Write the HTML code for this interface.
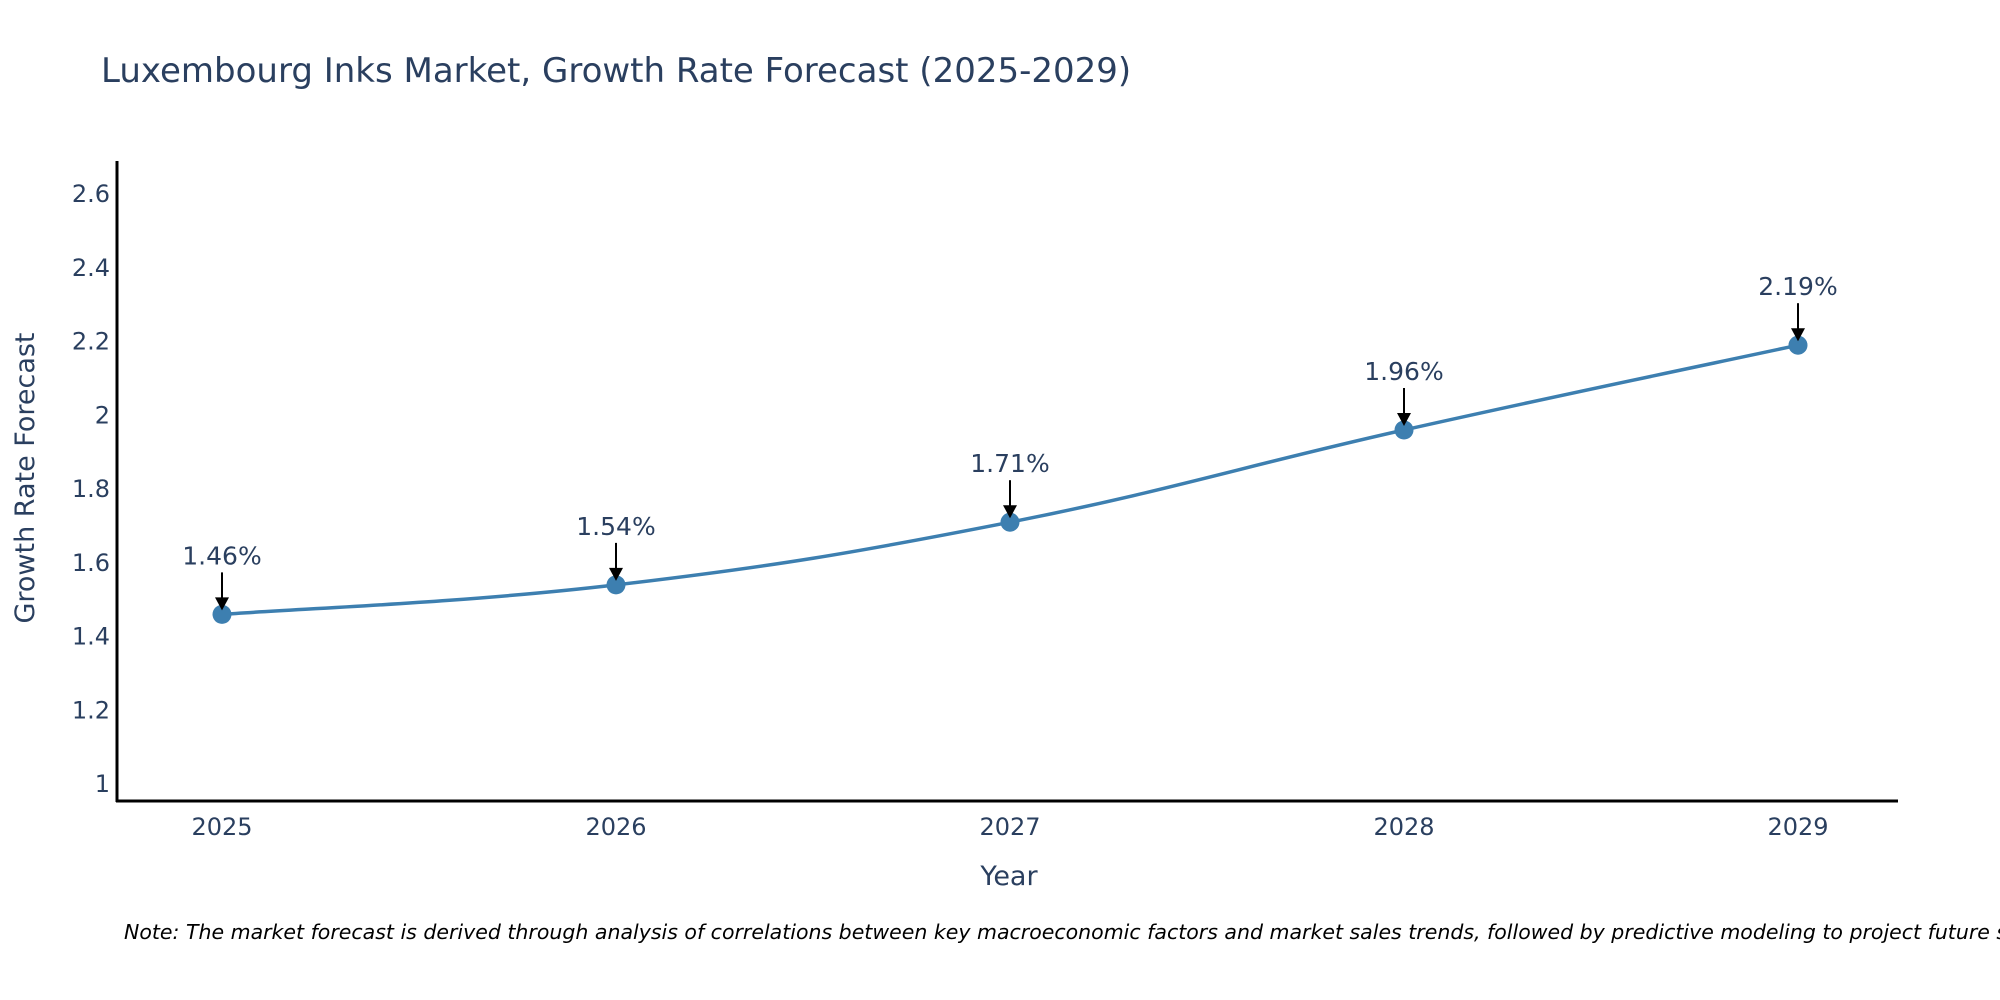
<!DOCTYPE html>
<html><head><meta charset="utf-8"><style>
html,body{margin:0;padding:0;background:#fff;width:2000px;height:1000px;overflow:hidden}
svg{display:block}
text{font-family:"DejaVu Sans","Liberation Sans",sans-serif;fill:#2a3f5f}
</style></head><body>
<svg id="chart" width="2000" height="1000">
<text x="101" y="82" font-size="34">Luxembourg Inks Market, Growth Rate Forecast (2025-2029)</text>
<g id="yticks"></g>
<g id="xticks"></g>
<line x1="117" y1="161" x2="117" y2="802" stroke="#000" stroke-width="3"/>
<line x1="116" y1="801" x2="1898" y2="801" stroke="#000" stroke-width="3"/>
<path id="line" fill="none" stroke="#3d7fb0" stroke-width="3.5"/>
<g id="points"></g>
<g id="annots"></g>
<text transform="translate(34,478) rotate(-90)" text-anchor="middle" font-size="27">Growth Rate Forecast</text>
<text x="1009" y="885" text-anchor="middle" font-size="27">Year</text>
<text x="124" y="939" font-size="20.5" font-style="italic" style="fill:#000">Note: The market forecast is derived through analysis of correlations between key macroeconomic factors and market sales trends, followed by predictive modeling to project future sales.</text>
</svg>
<script>
const years = ["2025","2026","2027","2028","2029"];
const values = [1.46, 1.54, 1.71, 1.96, 2.19];
const labels = ["1.46%","1.54%","1.71%","1.96%","2.19%"];
const yTicks = [1, 1.2, 1.4, 1.6, 1.8, 2, 2.2, 2.4, 2.6];
const yTickLabels = ["1","1.2","1.4","1.6","1.8","2","2.2","2.4","2.6"];
const NS="http://www.w3.org/2000/svg";
function xs(i){return 222+i*(1798-222)/4;}
function ys(v){return 784-(v-1)*(784-194)/1.6;}
function mk(tag,attrs,parent){const e=document.createElementNS(NS,tag);for(const k in attrs)e.setAttribute(k,attrs[k]);parent.appendChild(e);return e;}
const yt=document.getElementById('yticks');
yTicks.forEach((v,i)=>{const t=mk('text',{x:110,y:ys(v)+8,'text-anchor':'end','font-size':24},yt);


t.textContent=yTickLabels[i];});
const xt=document.getElementById('xticks');
years.forEach((y,i)=>{const t=mk('text',{x:xs(i),y:835,'text-anchor':'middle','font-size':24},xt);


t.textContent=y;});
const P=values.map((v,i)=>[xs(i),ys(v)]);
let d=`M${P[0][0]},${P[0][1]}`;const s=0.2;
for(let i=0;i<P.length-1;i++){const p0=P[i-1]||P[i],p1=P[i],p2=P[i+1],p3=P[i+2]||P[i+1];
d+=` C${p1[0]+(p2[0]-p0[0])*s},${p1[1]+(p2[1]-p0[1])*s} ${p2[0]-(p3[0]-p1[0])*s},${p2[1]-(p3[1]-p1[1])*s} ${p2[0]},${p2[1]}`;}
document.getElementById('line').setAttribute('d',d);
const pts=document.getElementById('points'),an=document.getElementById('annots');
P.forEach((p,i)=>{const c=mk('circle',{cx:p[0],cy:p[1],r:9.5,fill:'#3d7fb0'},pts);


const l=mk('line',{x1:p[0],y1:p[1]-42,x2:p[0],y2:p[1]-14,stroke:'#000','stroke-width':2},an);


const h=mk('polygon',{points:`${p[0]-7},${p[1]-17} ${p[0]+7},${p[1]-17} ${p[0]},${p[1]-4}`,fill:'#000'},an);


const t=mk('text',{x:p[0],y:p[1]-50,'text-anchor':'middle','font-size':25},an);


t.textContent=labels[i];});
</script>
</body></html>
